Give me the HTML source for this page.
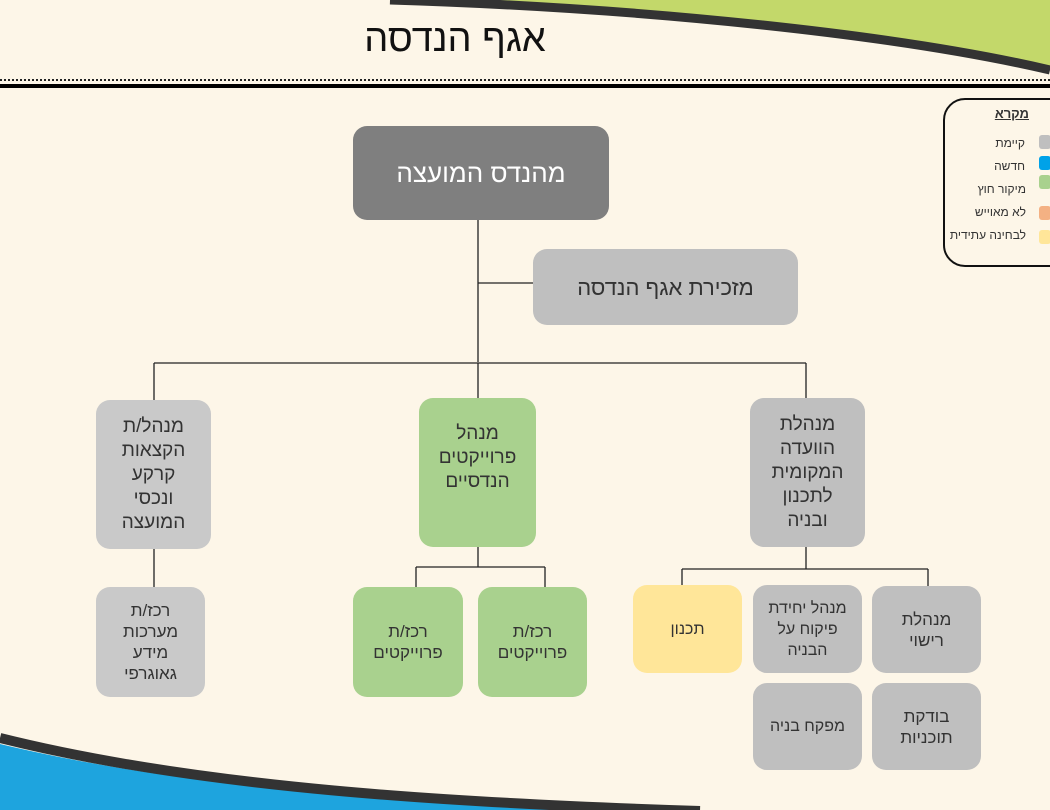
<!DOCTYPE html>
<html><head><meta charset="utf-8"><style>
body{margin:0;width:1050px;height:810px;overflow:hidden;background:#fdf6e8;font-family:"Liberation Sans","Noto Sans CJK SC",sans-serif;}
svg{position:absolute;left:0;top:0}
.b{position:absolute;display:flex;align-items:center;justify-content:center;text-align:center;direction:rtl;border-radius:14px;color:#333;font-size:17px;line-height:21px}
.g{background:#bfbfbf}.lg{background:#c9c9c9}.gr{background:#a9d18e}.y{background:#ffe699}
.l{position:absolute;font-size:12px;color:#333;direction:rtl}
.sw{position:absolute;width:12px;height:14px;border-radius:3px;left:1039px}
</style></head><body>
<svg width="1050" height="810">
<path d="M390 0 L1050 0 L1050 70 C900 35 650 8 390 0Z" fill="#c3d86a"/>
<path d="M390 0 C650 8 900 35 1050 70" fill="none" stroke="#333" stroke-width="9"/>
<line x1="0" y1="80" x2="1050" y2="80" stroke="#222" stroke-width="2" stroke-dasharray="2 2"/>
<line x1="0" y1="86" x2="1050" y2="86" stroke="#000" stroke-width="4"/>
<path d="M0 744 C200 792 450 806 700 812 L0 812Z" fill="#1ea4de"/>
<path d="M0 738 C200 788 450 803 700 811" fill="none" stroke="#333" stroke-width="10"/>
<g stroke="#222" stroke-width="1.3" fill="none">
<path d="M478 220V362M478 283H533M154 363H806M154 363V400M478 363V398M806 363V398"/>
<path d="M154 549V587M478 547V567M416 567H545M416 567V588M545 567V588"/>
<path d="M806 547V569M682 569H928M682 569V585M928 569V586"/>
</g>
</svg>
<div style="position:absolute;left:360px;top:18px;width:190px;text-align:center;font-size:38px;color:#111;direction:rtl">אגף הנדסה</div>
<div class="b" style="left:353px;top:126px;width:256px;height:94px;background:#7f7f7f;color:#fff;font-size:26px">מהנדס המועצה</div>
<div class="b g" style="left:533px;top:249px;width:265px;height:76px;font-size:22px">מזכירת אגף הנדסה</div>
<div class="b lg" style="left:96px;top:400px;width:115px;height:149px;font-size:19px;line-height:24px">מנהל/ת<br>הקצאות<br>קרקע<br>ונכסי<br>המועצה</div>
<div class="b gr" style="left:419px;top:398px;width:117px;height:149px;font-size:19px;line-height:24px;align-items:flex-start;padding-top:24px;box-sizing:border-box">מנהל<br>פרוייקטים<br>הנדסיים</div>
<div class="b g" style="left:750px;top:398px;width:115px;height:149px;font-size:19px;line-height:24px">מנהלת<br>הוועדה<br>המקומית<br>לתכנון<br>ובניה</div>
<div class="b lg" style="left:96px;top:587px;width:109px;height:110px">רכז/ת<br>מערכות<br>מידע<br>גאוגרפי</div>
<div class="b gr" style="left:353px;top:587px;width:110px;height:110px">רכז/ת<br>פרוייקטים</div>
<div class="b gr" style="left:478px;top:587px;width:109px;height:110px">רכז/ת<br>פרוייקטים</div>
<div class="b y" style="left:633px;top:585px;width:109px;height:88px;font-size:16px">תכנון</div>
<div class="b g" style="left:753px;top:585px;width:109px;height:88px;font-size:16px">מנהל יחידת<br>פיקוח על<br>הבניה</div>
<div class="b g" style="left:872px;top:586px;width:109px;height:87px">מנהלת<br>רישוי</div>
<div class="b g" style="left:753px;top:683px;width:109px;height:87px;font-size:16px">מפקח בניה</div>
<div class="b g" style="left:872px;top:683px;width:109px;height:87px">בודקת<br>תוכניות</div>
<div style="position:absolute;left:943px;top:98px;width:130px;height:165px;border:2px solid #111;border-radius:22px"></div>
<div class="l" style="right:21px;top:106px;font-size:13px;font-weight:bold;text-decoration:underline">מקרא</div>
<div class="l" style="right:25px;top:136px">קיימת</div>
<div class="l" style="right:25px;top:159px">חדשה</div>
<div class="l" style="right:24px;top:182px">מיקור חוץ</div>
<div class="l" style="right:24px;top:205px">לא מאוייש</div>
<div class="l" style="right:24px;top:228px">לבחינה עתידית</div>
<div class="sw" style="top:135px;background:#bfbfbf"></div>
<div class="sw" style="top:156px;background:#00a2e8"></div>
<div class="sw" style="top:175px;background:#a9d18e"></div>
<div class="sw" style="top:206px;background:#f4b183"></div>
<div class="sw" style="top:230px;background:#ffe699"></div>
</body></html>
